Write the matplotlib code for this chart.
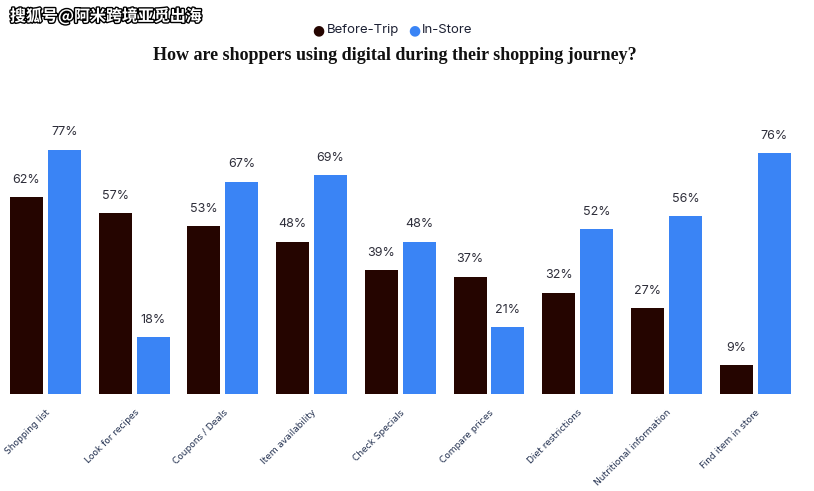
import numpy as np
import matplotlib
matplotlib.use("Agg")
from matplotlib import pyplot as plt
import matplotlib.patheffects as pe

categories = ["Shopping list", "Look for recipes", "Coupons / Deals", "Item availability",
              "Check Specials", "Compare prices", "Diet restrictions",
              "Nutritional information", "Find item in store"]
before_trip = [62, 57, 53, 48, 39, 37, 32, 27, 9]
in_store = [77, 18, 67, 69, 48, 21, 52, 56, 76]

dark = "#250500"
blue = "#3a84f5"
label_col = "#2e2e3a"

fig = plt.figure(figsize=(8.14, 4.91), dpi=100)
ax = fig.add_axes([0, 97 / 491, 1, 317 / 491])

x = np.arange(len(categories))
off = 0.214
w = 0.372
ax.bar(x - off, before_trip, w, color=dark)
ax.bar(x + off, in_store, w, color=blue)

for i in range(len(categories)):
    ax.text(x[i] - off, before_trip[i] + 3.6, f"{before_trip[i]}%", ha="center", va="bottom",
            fontsize=9, color=label_col, family="Inter")
    ax.text(x[i] + off, in_store[i] + 3.6, f"{in_store[i]}%", ha="center", va="bottom",
            fontsize=9, color=label_col, family="Inter")

ax.set_xlim(-45.5 / 88.7, (814 - 45.5) / 88.7)
ax.set_ylim(0, 100)
ax.set_xticks(x)
ax.set_xticklabels(categories, rotation=45, ha="right", rotation_mode="anchor",
                   fontsize=6.5, color="#1f2d4d")
ax.tick_params(axis="x", length=0, pad=10)
ax.set_yticks([])
for s in ax.spines.values():
    s.set_visible(False)

# legend
ly = 1 - 30 / 491
fig.text(318 / 814, ly, "\u25cf", color=dark, fontsize=10, ha="center", va="center")
fig.text(327 / 814, ly, "Before-Trip", color="#1c2033", fontsize=9.5, ha="left", va="center", family="Inter")
fig.text(414 / 814, ly, "\u25cf", color=blue, fontsize=10, ha="center", va="center")
fig.text(422 / 814, ly, "In-Store", color="#1c2033", fontsize=9.5, ha="left", va="center", family="Inter")

fig.text(395 / 814, 1 - 56 / 491, "How are shoppers using digital during their shopping journey?",
         ha="center", va="center", fontsize=13, fontweight="bold", family="Liberation Serif",
         color="#111111")

fig.text(10 / 814, 1 - 16 / 491, "搜狐号@阿米跨境亚觅出海", ha="left", va="center", fontsize=11.5,
         color="white", fontweight="bold", family=["Noto Sans CJK SC", "DejaVu Sans"],
         path_effects=[pe.withStroke(linewidth=2, foreground="black")])

fig.savefig("out.png", dpi=100, facecolor="white")
